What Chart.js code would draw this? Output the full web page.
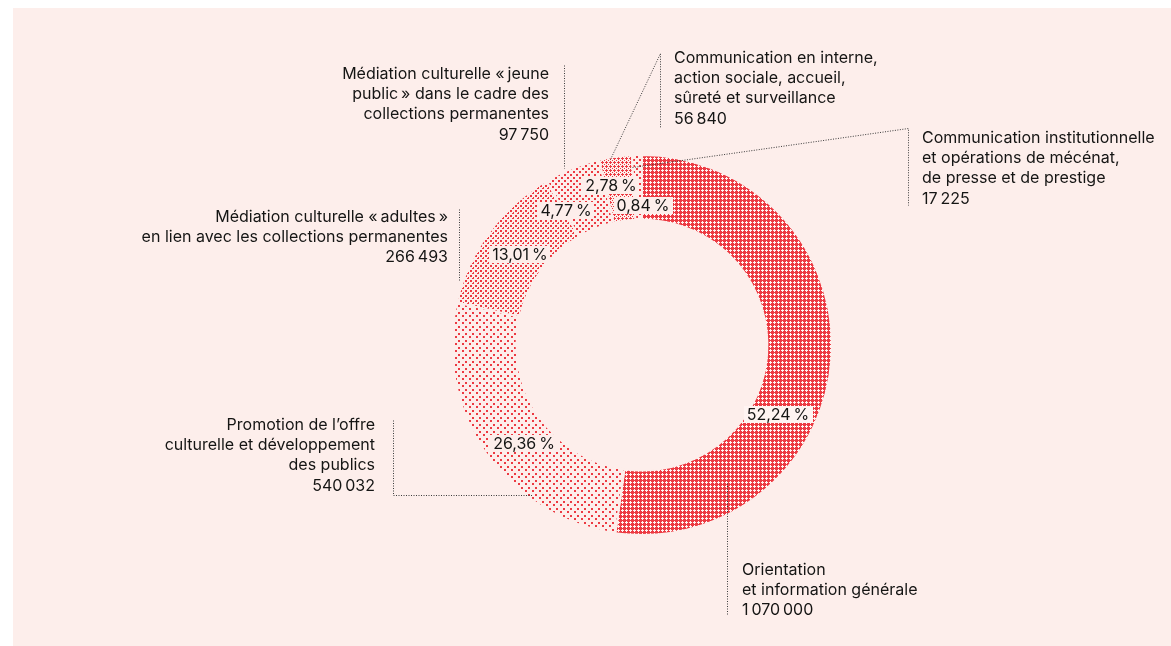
<!DOCTYPE html>
<html>
<head>
<meta charset="utf-8">
<script src="https://cdn.jsdelivr.net/npm/chart.js"></script>
<style>
  html, body { margin: 0; padding: 0; background: #fff; }
  canvas { display: block; }
</style>
</head>
<body>
<canvas id="budget" width="1171" height="646"></canvas>
<script>
// slices, clockwise from 12 o'clock
var categories = [
  ['Orientation', 'et information générale'],
  ['Promotion de l\u2019offre', 'culturelle et développement', 'des publics'],
  ['Médiation culturelle «\u202fadultes\u202f»', 'en lien avec les collections permanentes'],
  ['Médiation culturelle «\u202fjeune', 'public\u202f» dans le cadre des', 'collections permanentes'],
  ['Communication en interne,', 'action sociale, accueil,', 'sûreté et surveillance'],
  ['Communication institutionnelle', 'et opérations de mécénat,', 'de presse et de prestige']
];
var amounts = [1070000, 540032, 266493, 97750, 56840, 17225];
var percents = [52.24, 26.36, 13.01, 4.77, 2.78, 0.84];

var PANEL = '#fdeeeb';
var RED = '#ec3a42';
var INK = '#151514';
var FONT = '16px Inter, "Liberation Sans", sans-serif';

function fmtAmount(v) {
  return String(v).replace(/\B(?=(\d{3})+(?!\d))/g, '\u2009');
}
function fmtPct(v) {
  return v.toFixed(2).replace('.', ',') + '\u2009%';
}

// small pixel tiles used as fills
function tile(size, bg, fg, cells) {
  var c = document.createElement('canvas');
  c.width = size; c.height = size;
  var x = c.getContext('2d');
  x.fillStyle = bg;
  x.fillRect(0, 0, size, size);
  x.fillStyle = fg;
  cells.forEach(function (p) { x.fillRect(p[0], p[1], p[2], p[3]); });
  return x.createPattern(c, 'repeat');
}
function plus(cx, cy) {
  return [[cx - 1, cy, 3, 1], [cx, cy - 1, 1, 3]];
}
var ctx0 = document.getElementById('budget').getContext('2d');
var fills = [
  tile(4, RED, '#fff4f2', plus(2, 2)),
  tile(7, PANEL, RED, [[0, 0, 2, 2], [3, 4, 2, 2]]),
  tile(5, PANEL, RED, [[0, 0, 2, 2], [2, 3, 2, 1], [3, 2, 1, 2]]),
  tile(6, PANEL, RED, [[0, 0, 2, 2], [3, 3, 2, 2]]),
  tile(4, PANEL, RED, plus(2, 2).concat([[0, 0, 1, 1]])),
  tile(6, PANEL, RED, [[0, 0, 2, 2], [3, 3, 2, 2]])
];

// label placement (offsets from the ring centre for the percentages)
var pctPos = [[136, 69], [-118, 98], [-122, -91], [-76, -135], [-31, -160], [1, -140]];
var outer = [
  { x: 742, y: 575, align: 'left',  leader: [[727, 483], [727, 615]] },
  { x: 375, y: 430, align: 'right', leader: [[393, 420], [393, 495], [532, 495]] },
  { x: 448, y: 222, align: 'right', leader: [[459, 209], [459, 280]] },
  { x: 549, y: 79,  align: 'right', leader: [[564, 65], [564, 168]] },
  { x: 674, y: 63,  align: 'left',  leader: [[610, 159], [660, 53], [660, 127]] },
  { x: 922, y: 143, align: 'left',  leader: [[632, 167], [908, 128], [908, 205]] }
];
var LINE = 20.2;

var panelPlugin = {
  id: 'panel',
  beforeDraw: function (chart) {
    var c = chart.ctx;
    c.save();
    c.fillStyle = '#ffffff';
    c.fillRect(0, 0, chart.width, chart.height);
    c.fillStyle = PANEL;
    c.fillRect(13, 8, chart.width - 13, chart.height - 8);
    c.restore();
  }
};

var labelPlugin = {
  id: 'sliceLabels',
  afterDatasetsDraw: function (chart) {
    var c = chart.ctx;
    var arcs = chart.getDatasetMeta(0).data;
    c.save();
    // leaders
    c.strokeStyle = '#3a3a3a';
    c.lineWidth = 1;
    c.setLineDash([1, 1.5]);
    outer.forEach(function (o) {
      c.beginPath();
      o.leader.forEach(function (p, i) {
        if (i === 0) c.moveTo(p[0] + 0.5, p[1] + 0.5);
        else c.lineTo(p[0] + 0.5, p[1] + 0.5);
      });
      c.stroke();
    });
    c.setLineDash([]);
    c.font = FONT;
    c.fillStyle = INK;
    // category names and amounts
    outer.forEach(function (o, i) {
      var lines = categories[i].concat([fmtAmount(amounts[i])]);
      c.textAlign = o.align;
      c.textBaseline = 'alphabetic';
      lines.forEach(function (t, k) { c.fillText(t, o.x, Math.round(o.y + k * LINE)); });
    });
    // percentages in boxes
    c.textAlign = 'center';
    c.textBaseline = 'middle';
    arcs.forEach(function (arc, i) {
      var t = fmtPct(percents[i]);
      var x = arc.x + pctPos[i][0];
      var y = arc.y + pctPos[i][1];
      var w = c.measureText(t).width + 6;
      c.fillStyle = i === 0 ? '#fff4f2' : PANEL;
      c.fillRect(Math.round(x - w / 2), Math.round(y - 8), Math.round(w), 17);
      c.fillStyle = INK;
      c.fillText(t, x, y + 1);
    });
    c.restore();
  }
};

new Chart(ctx0, {
  type: 'doughnut',
  data: {
    labels: categories,
    datasets: [{
      data: amounts,
      backgroundColor: fills,
      borderColor: PANEL,
      borderWidth: 2
    }]
  },
  options: {
    responsive: false,
    animation: false,
    cutout: '66%',
    layout: { padding: { left: 451, right: 338, top: 154, bottom: 110 } },
    plugins: {
      legend: { display: false },
      tooltip: { enabled: false }
    }
  },
  plugins: [panelPlugin, labelPlugin]
});
</script>
</body>
</html>
